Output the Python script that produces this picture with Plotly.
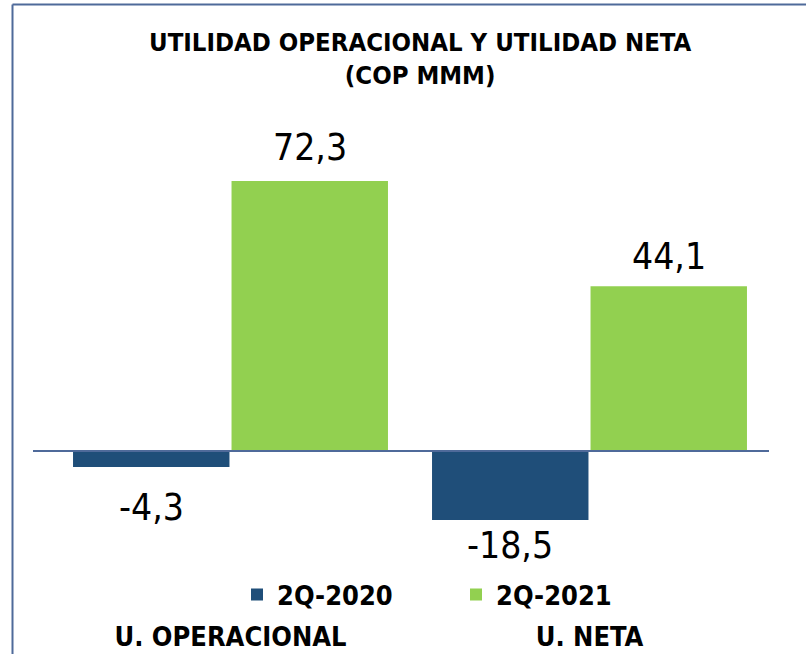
import plotly.graph_objects as go

# ---- data ----
categories = ["U. OPERACIONAL", "U. NETA"]
series_names = ["2Q-2020", "2Q-2021"]
values_2020 = [-4.3, -18.5]
values_2021 = [72.3, 44.1]
labels_2020 = ["-4,3", "-18,5"]
labels_2021 = ["72,3", "44,1"]
title_lines = ["UTILIDAD OPERACIONAL Y UTILIDAD NETA", "(COP MMM)"]

# ---- style ----
OFF = 0  # page body margin removed via post_script
W, H = 806 - OFF, 654 - OFF
BLUE = "#1F4E79"
GREEN = "#92D050"
FRAME = "#4F6A9A"
FONT = "DejaVu Sans Condensed, DejaVu Sans, sans-serif"
# plot area in screen px
PL, PR, PT, PB = 51, 769, 100, 612
ZERO_Y = 451
ML, MR, MT, MB = PL - OFF, W - (PR - OFF), PT - OFF, H - (PB - OFF)
plot_w = PR - PL
plot_h = PB - PT
BARGAP = 0.117
label_shift_2020 = [-40, -25]
label_shift_2021 = [34, 30]


def px_x(x):
    return (x - PL) / plot_w


def px_y(y):
    return (PB - y) / plot_h


fig = go.Figure()
fig.add_trace(go.Bar(x=categories, y=values_2020, name=series_names[0],
                     marker=dict(color=BLUE, line=dict(width=0))))
fig.add_trace(go.Bar(x=categories, y=values_2021, name=series_names[1],
                     marker=dict(color=GREEN, line=dict(width=0))))

off = (1 - BARGAP) / 4
for i in range(len(categories)):
    fig.add_annotation(x=i - off, y=values_2020[i], text=labels_2020[i],
                       showarrow=False, yanchor="middle",
                       yshift=label_shift_2020[i],
                       font=dict(family=FONT, size=37, color="#000000"))
    fig.add_annotation(x=i + off, y=values_2021[i], text=labels_2021[i],
                       showarrow=False, yanchor="middle",
                       yshift=label_shift_2021[i],
                       font=dict(family=FONT, size=37, color="#000000"))

# title
fig.add_annotation(xref="paper", yref="paper", x=px_x(420), y=px_y(58),
                   text="<b>" + "<br>".join(title_lines) + "</b>",
                   showarrow=False, xanchor="center", yanchor="middle",
                   font=dict(family=FONT, size=25.5, color="#000000"))

# zero line
fig.add_shape(type="line", xref="paper", yref="y", x0=px_x(33), x1=px_x(769),
              y0=0, y1=0, line=dict(color=FRAME, width=2))
# frame (top & left)
fig.add_shape(type="line", xref="paper", yref="paper", x0=px_x(12.5), x1=px_x(810),
              y0=px_y(4.5), y1=px_y(4.5), line=dict(color=FRAME, width=2))
fig.add_shape(type="line", xref="paper", yref="paper", x0=px_x(12.5), x1=px_x(12.5),
              y0=px_y(4.5), y1=px_y(660), line=dict(color=FRAME, width=2))

scale = 270 / 72.3  # px per unit
y_top = (ZERO_Y - PT) / scale
y_bot = -(PB - ZERO_Y) / scale

fig.update_layout(
    width=W, height=H,
    margin=dict(l=ML, r=MR, t=MT, b=MB, pad=0, autoexpand=False),
    paper_bgcolor="white", plot_bgcolor="white",
    barmode="group", bargap=BARGAP, bargroupgap=0.013,
    showlegend=True,
    legend=dict(orientation="h", x=px_x(237), y=px_y(595), xanchor="left",
                yanchor="middle", entrywidth=174, entrywidthmode="pixels",
                font=dict(family=FONT, size=27, color="#000000", weight="bold"),
                bgcolor="rgba(0,0,0,0)"),
    xaxis=dict(showgrid=False, zeroline=False, showline=False, ticks="",
               automargin=False, ticklabelstandoff=6,
               tickfont=dict(family=FONT, size=27, color="#000000", weight="bold")),
    yaxis=dict(range=[y_bot, y_top], showgrid=False, zeroline=False,
               automargin=False,
               showline=False, showticklabels=False, ticks=""),
)

fig.write_html("out.html",
               config={"displayModeBar": False},
               post_script="document.body.style.margin='0';"
                           "document.body.style.overflow='hidden';")
